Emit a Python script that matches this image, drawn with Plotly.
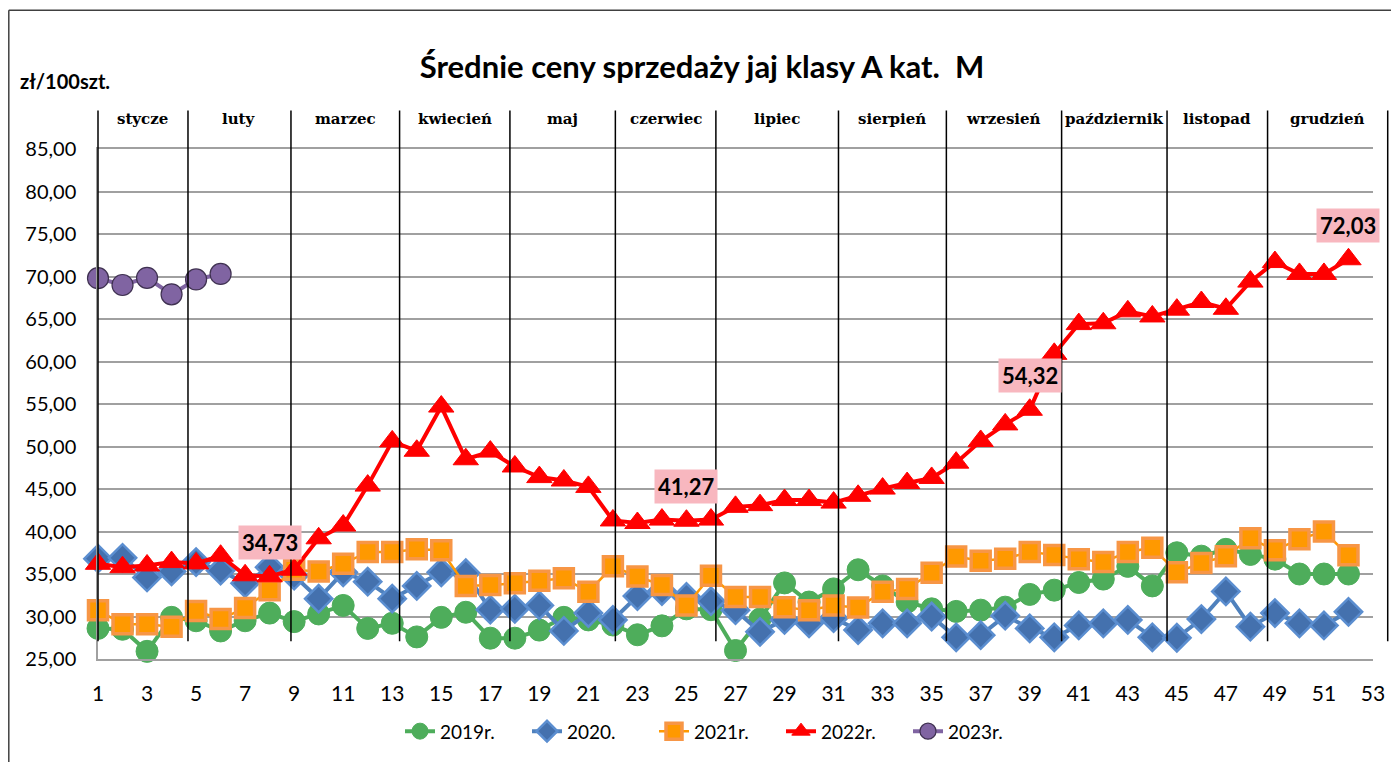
import plotly.graph_objects as go

# ---------------- data ----------------
weeks = list(range(1, 53))

y2019 = [28.6, 28.5, 25.9, 29.9, 29.5, 28.3, 29.5, 30.4, 29.4, 30.3,
         31.3, 28.6, 29.2, 27.6, 29.9, 30.5, 27.45, 27.45, 28.4, 29.9,
         29.6, 29.0, 27.85, 28.9, 30.9, 30.8, 26.0, 29.7, 33.95, 31.7,
         33.25, 35.5, 33.6, 31.7, 30.9, 30.6, 30.75, 31.1, 32.6, 33.1,
         34.0, 34.4, 35.9, 33.6, 37.5, 37.1, 37.9, 37.3, 36.75, 35.0,
         35.0, 35.0]

y2020 = [36.8, 36.9, 34.6, 35.3, 36.4, 35.4, 33.9, 35.8, 34.8, 32.1,
         35.2, 34.1, 32.1, 33.6, 35.2, 35.1, 30.8, 30.9, 31.3, 28.3,
         30.4, 29.6, 32.4, 33.0, 32.3, 31.8, 30.75, 28.2, 29.6, 29.2,
         29.8, 28.4, 29.2, 29.2, 30.0, 27.55, 27.8, 30.1, 28.6, 27.55,
         28.95, 29.2, 29.6, 27.55, 27.5, 29.7, 32.95, 28.8, 30.4, 29.2,
         28.95, 30.55]

y2021 = [30.75, 29.1, 29.1, 28.8, 30.65, 29.7, 31.0, 33.1, 35.5, 35.3,
         36.2, 37.6, 37.6, 37.9, 37.8, 33.6, 33.7, 33.9, 34.2, 34.5,
         32.9, 35.9, 34.7, 33.7, 31.3, 34.8, 32.3, 32.3, 31.1, 30.75,
         31.3, 31.05, 32.9, 33.25, 35.15, 37.05, 36.55, 36.8, 37.6, 37.25,
         36.75, 36.4, 37.6, 38.1, 35.2, 36.3, 37.1, 39.2, 37.8, 39.1,
         40.0, 37.2]

y2022 = [36.2, 35.8, 36.0, 36.4, 36.25, 37.15, 34.85, 34.73, 35.5, 39.2,
         40.7, 45.4, 50.6, 49.5, 54.7, 48.5, 49.4, 47.65, 46.4, 46.0,
         45.25, 41.3, 41.0, 41.4, 41.27, 41.4, 42.9, 43.1, 43.7, 43.7,
         43.4, 44.2, 45.05, 45.7, 46.3, 48.1, 50.65, 52.6, 54.32, 60.9,
         64.4, 64.5, 65.9, 65.3, 66.1, 67.0, 66.2, 69.4, 71.7, 70.3,
         70.3, 72.03]

y2023 = [69.8, 69.0, 69.85, 67.9, 69.65, 70.3]

series_names = ["2019r.", "2020.", "2021r.", "2022r.", "2023r."]

label_weeks_2022 = [8, 25, 39, 52]

month_names = ["stycze", "luty", "marzec", "kwiecień", "maj", "czerwiec",
               "lipiec", "sierpień", "wrzesień", "październik", "listopad",
               "grudzień"]
# week positions of the hand-drawn month separator lines
month_edges = [1.0, 4.67, 8.87, 13.3, 17.8, 22.1, 26.2, 31.2, 35.6, 40.3,
               44.6, 48.7, 53.6]

x_ticks = list(range(1, 54, 2))
y_min, y_max, y_step = 25, 85, 5

# ---------------- figure ----------------
# the page body adds an 8px offset; work in screen pixels and subtract it
OFF = 8
W, H = 1399 - OFF, 762 - OFF
PLOT_L, PLOT_R, PLOT_T, PLOT_B = 98, 1373, 149, 664   # screen pixels
ML, MR = PLOT_L - OFF, W - (PLOT_R - OFF)
MT, MB = PLOT_T - OFF, H - (PLOT_B - OFF)
PW, PH = PLOT_R - PLOT_L, PLOT_B - PLOT_T
X0, X1 = 1, 53


def px_x(px):
    return (px - PLOT_L) / PW


def px_y(py):
    return (PLOT_B - py) / PH


def week_to_paper(w):
    return (w - X0) / (X1 - X0)


fig = go.Figure()

styles = [
    dict(line=dict(color="#4EAD5B", width=4),
         marker=dict(symbol="circle", size=22, color="#4EAD5B",
                     line=dict(color="#4EAD5B", width=1))),
    dict(line=dict(color="#4F81BD", width=4),
         marker=dict(symbol="diamond", size=21, color="#4471AE",
                     line=dict(color="#5B8ED0", width=2.5))),
    dict(line=dict(color="#FF9900", width=2.5),
         marker=dict(symbol="square", size=19, color="#FF9900",
                     line=dict(color="#F79646", width=3.5))),
    dict(line=dict(color="#FF0000", width=4),
         marker=dict(symbol="triangle-up", size=22, color="#FF0000",
                     line=dict(color="#FF0000", width=1))),
    dict(line=dict(color="#8064A2", width=4),
         marker=dict(symbol="circle", size=21, color="#8064A2",
                     line=dict(color="#3F3151", width=1.2))),
]

all_y = [y2019, y2020, y2021, y2022, y2023]
for name, ys, st in zip(series_names, all_y, styles):
    fig.add_trace(go.Scatter(
        x=weeks[:len(ys)], y=ys, name=name, mode="lines+markers",
        line=st["line"], marker=st["marker"], cliponaxis=False,
        hoverinfo="x+y+name"))

shapes = []
# month separator lines
for w in month_edges:
    shapes.append(dict(type="line", xref="paper", yref="paper",
                       x0=week_to_paper(w), x1=week_to_paper(w),
                       y0=px_y(646), y1=px_y(110),
                       line=dict(color="#000000", width=1.5), layer="above"))
# chart frame (top and left edges visible)
shapes.append(dict(type="line", xref="paper", yref="paper",
                   x0=px_x(8.8), x1=px_x(1420), y0=px_y(9), y1=px_y(9),
                   line=dict(color="#404040", width=1.5)))
shapes.append(dict(type="line", xref="paper", yref="paper",
                   x0=px_x(8.8), x1=px_x(8.8), y0=px_y(9), y1=px_y(780),
                   line=dict(color="#404040", width=1.5)))

annotations = []
for i, m in enumerate(month_names):
    xm = (month_edges[i] + month_edges[i + 1]) / 2
    annotations.append(dict(
        x=xm, xref="x", y=px_y(119), yref="paper", text=m,
        showarrow=False, xanchor="center", yanchor="middle",
        font=dict(family="DejaVu Serif", size=15, color="#000000",
                  weight="bold")))

for w in label_weeks_2022:
    v = y2022[w - 1]
    annotations.append(dict(
        x=w, y=v, xref="x", yref="y", text=f"{v:.2f}".replace(".", ","),
        showarrow=False, yshift=34, bgcolor="#F8B7BF", borderpad=3,
        font=dict(family="Lato", size=22, color="#000000", weight="bold")))

annotations.append(dict(
    x=px_x(65), y=px_y(80), xref="paper", yref="paper", text="zł/100szt.",
    showarrow=False, xanchor="center", yanchor="middle",
    font=dict(family="Lato", size=20, color="#000000", weight="bold")))

fig.update_layout(
    width=W, height=H,
    margin=dict(l=ML, r=MR, t=MT, b=MB, pad=0),
    paper_bgcolor="#FFFFFF", plot_bgcolor="#FFFFFF",
    separators=", ",
    title=dict(text="<b>Średnie ceny sprzedaży jaj klasy A kat.  M</b>",
               x=(702 - OFF) / W, xanchor="center",
               y=1 - (67 - OFF) / H, yanchor="middle",
               font=dict(family="Lato", size=31, color="#000000")),
    xaxis=dict(range=[X0, X1], tickmode="array", tickvals=x_ticks,
               showgrid=False, zeroline=False, showline=True, mirror=True,
               linecolor="#A0A0A0", linewidth=1.5,
               ticks="outside", ticklen=15, tickcolor="rgba(0,0,0,0)",
               tickfont=dict(family="Lato", size=21, color="#000000")),
    yaxis=dict(range=[y_min, y_max], tick0=y_min, dtick=y_step,
               tickformat=".2f", showgrid=True, gridcolor="#A0A0A0",
               gridwidth=1.5, zeroline=False, showline=True,
               linecolor="#A0A0A0", linewidth=1.5,
               ticks="outside", ticklen=16, tickcolor="rgba(0,0,0,0)",
               tickfont=dict(family="Lato", size=20, color="#000000")),
    legend=dict(orientation="h", x=px_x(400), xanchor="left",
                y=px_y(737), yanchor="middle", entrywidth=82,
                font=dict(family="Lato", size=19, color="#000000"),
                bgcolor="rgba(0,0,0,0)", traceorder="normal"),
    shapes=shapes,
    annotations=annotations,
    showlegend=True,
)

fig.write_html("out.html")
